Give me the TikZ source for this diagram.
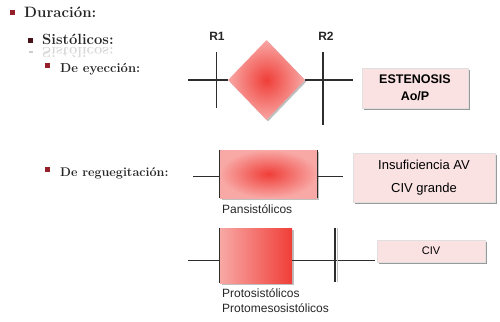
\documentclass[tikz,border=0pt]{standalone}
\usepackage{fontspec}
\newfontfamily\boxfont{Liberation Sans}
\usetikzlibrary{%
	shapes.geometric,%
	shadows,%
	positioning,%
	calc,%
}
\definecolor{cred}{RGB}{240, 62, 56}
\definecolor{credlight}{RGB}{248, 168, 165}
\definecolor{cpink}{RGB}{251, 226, 226}
\definecolor{cbullet}{RGB}{150, 32, 42}
\definecolor{cbulletdark}{RGB}{70, 20, 24}
\definecolor{cline}{RGB}{45, 45, 45}
\tikzset{
	wire/.style={%
			draw=cline,%
			line width=1.3pt},%
	bullet/.style={%
			fill=cbullet,%
			rectangle,%
			minimum size=5pt,%
			inner sep=0},%
	heading/.style={%
			text=black!85,%
			anchor=base west,%
			inner sep=0},%
	infobox/.style={%
			rectangle,%
			fill=cpink,%
			draw=black!12,%
			inner sep=0,%
			align=center,%
			drop shadow={shadow xshift=1.5pt, shadow yshift=-1.5pt, fill=black!50, opacity=.8}},%
	murmur/.style={%
			inner sep=0,%
			shade,%
			inner color=cred,%
			outer color=credlight,%
			drop shadow={shadow xshift=1.5pt, shadow yshift=-1.5pt, fill=black!50, opacity=.5}},%
	caption/.style={%
			font={\boxfont\fontsize{12}{14.5}\selectfont},%
			text=black!85,%
			anchor=base west,%
			inner sep=0,%
			align=left},%
}

\begin{document}
\begin{tikzpicture}[x=1pt, y=-1pt]%
	\useasboundingbox (0,0) rectangle (500,321);

	% list on the left
	\node[bullet] (b1) at (12.5,12.5) {};
	\node[heading, font={\bfseries\fontsize{15}{17}\selectfont}] (dur) at (24,18) {Duración:};
	\node[bullet, fill=cbulletdark] (b2) at (30.5,40.5) {};
	\node[heading, font={\bfseries\fontsize{14.8}{17}\selectfont}] (sis) at (42,45) {Sistólicos:};
	\node[heading, font={\bfseries\fontsize{14.8}{17}\selectfont}, text=black!15, yscale=-1, transform shape] (sisr) at (42,47.5) {Sistólicos:};
	\node[bullet, fill=black!20, minimum height=2pt, minimum width=4pt] (b2r) at (30.5,52) {};
	\node[bullet] (b3) at (47.5,65.5) {};
	\node[heading, font={\bfseries\fontsize{13}{16}\selectfont}] (eye) at (60,72) {De eyección:};
	\node[bullet] (b4) at (47.5,169.5) {};
	\node[heading, font={\bfseries\fontsize{12.6}{16}\selectfont}] (reg) at (60,176) {De reguegitación:};

	% eyeccion
	\node[murmur, diamond, minimum width=77pt, minimum height=80pt] (dia) at (266.5,80) {};
	\node[font={\boxfont\bfseries\fontsize{12}{14}\selectfont}, text=black!85, inner sep=0] (r1) at (217,36) {R1};
	\node[font={\boxfont\bfseries\fontsize{12}{14}\selectfont}, text=black!85, inner sep=0] (r2) at (326,36) {R2};
	\coordinate (r1top) at (216.7,52);
	\coordinate (r1bot) at (216.7,108);
	\coordinate (r2top) at (323,52);
	\coordinate (r2bot) at (323,125);
	\coordinate (e1) at (188,80);
	\coordinate (e2) at (353,80);
	\draw[wire] (e1) -- (dia.west);
	\draw[wire] (dia.east) -- (e2);
	\draw[wire] (r1top) -- (r1bot);
	\draw[wire] (r2top) -- (r2bot);
	\node[infobox, minimum width=106pt, minimum height=40pt, font={\boxfont\bfseries\fontsize{12.5}{17}\selectfont}] (est) at (415,88) {ESTENOSIS\\Ao/P};

	% regurgitacion
	\node[murmur, rectangle, minimum width=97pt, minimum height=48pt] (pan) at (268.5,174) {};
	\draw[wire] (pan.north west) -- (pan.south west);
	\draw[wire] (pan.north east) -- (pan.south east);
	\coordinate (p1) at (193,176.7);
	\coordinate (p2) at (343,176.7);
	\draw[wire] (p1) -- (p1 -| pan.west);
	\draw[wire] (p2 -| pan.east) -- (p2);
	\node[caption] (panlbl) at (222,213) {Pansistólicos};
	\node[infobox, minimum width=142pt, minimum height=49pt, font={\boxfont\fontsize{13}{23}\selectfont}] (ins) at (424,177.5) {Insuficiencia AV\\CIV grande};

	% proto
	\node[rectangle, inner sep=0, left color=credlight, right color=cred, minimum width=72pt, minimum height=55pt,
		drop shadow={shadow xshift=1.5pt, shadow yshift=-1.5pt, fill=black!50, opacity=.5}] (proto) at (256,255.5) {};
	\draw[wire] (proto.north west) -- (proto.south west);
	\coordinate (q1) at (188,260.7);
	\coordinate (q2) at (375,260.7);
	\coordinate (qtop) at (335,228);
	\coordinate (qbot) at (335,282);
	\draw[wire] (q1) -- (q1 -| proto.west);
	\draw[wire] (q1 -| proto.east) -- (q2);
	\draw[line width=1.3pt, black!25] ($(qtop)+(2.5,0)$) -- ($(qbot)+(2.5,0)$);
	\draw[wire] (qtop) -- (qbot);
	\node[caption] (protolbl) at (222,312) {Protosistólicos\\Protomesosistólicos};
	\node[infobox, minimum width=108pt, minimum height=22pt, font={\boxfont\fontsize{11}{13}\selectfont}] (civ) at (431,251) {CIV};
\end{tikzpicture}
\end{document}
